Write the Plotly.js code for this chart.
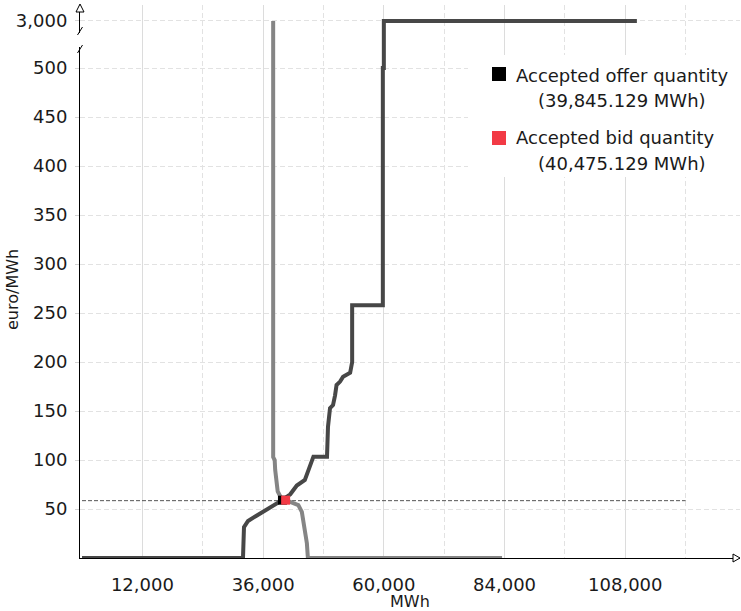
<!DOCTYPE html>
<html>
<head>
<meta charset="utf-8">
<script src="https://cdn.plot.ly/plotly-3.0.1.min.js"></script>
<style>html,body{margin:0;padding:0;background:#fff;}</style>
</head>
<body>
<div id="chart" style="width:741px;height:611px;"></div>
<script>
// ---- data ----
const offerQty   = [0, 32000, 32200, 33000, 34600, 36000, 37400, 38800, 39800, 41400, 42700, 44300, 45000, 45700, 46000, 48700, 48900, 49300, 49900, 50300, 50600, 51300, 51900, 53300, 53700, 53700, 59800, 59800, 60000, 60000, 110300];
const offerPrice = [0, 0, 31.6, 37.8, 42.9, 47, 52, 56, 59, 65, 74, 79.6, 89.8, 97, 103.4, 103.4, 134, 153, 156, 166, 176.5, 180, 185, 189, 200, 258, 258, 500, 500, 3000, 3000];

const bidQty   = [38000, 38000, 38300, 38400, 38900, 39600, 40500, 41400, 43000, 43700, 44000, 44300, 44700, 44900, 83500];
const bidPrice = [3000, 103, 100, 90, 68, 61, 59, 57.5, 54, 47, 38.8, 28.6, 15, 0, 0];

const clearingPrice = 58.5;
const priceLineQty = [0, 120000];

const acceptedOfferQty = 39845.129;
const acceptedBidQty = 40475.129;
const acceptedPrice = 59;

const xMajorTicks = [12000, 36000, 60000, 84000, 108000];
const xMinorTicks = [24000, 48000, 72000, 96000, 120000];
const yTickValues = [50, 100, 150, 200, 250, 300, 350, 400, 450, 500, 3000];
const yTickLabels = ['50', '100', '150', '200', '250', '300', '350', '400', '450', '500', '3,000'];
const ySolidGrid = [50, 150, 250, 350, 450, 3000];

const legendLabels = ['Accepted offer quantity', 'Accepted bid quantity'];
const legendValues = ['(39,845.129 MWh)', '(40,475.129 MWh)'];
const xTitle = 'MWh';
const yTitle = 'euro/MWh';

// ---- broken y-axis: values above 500 are compressed ----
const BREAK = 500;
function yMap(v) { return v <= BREAK ? v : BREAK + (v - BREAK) * 48 / 2500; }

// ---- pixel helpers for decorations ----
const L = 80, R = 1, T = 5, B = 53, W = 741, H = 611;
const PW = W - L - R, PH = H - T - B;
const px = p => (p - L) / PW;
const py = p => (H - B - p) / PH;

const FONT = 'DejaVu Sans, Arial, sans-serif';
const TXT = '#1a1a1a';

const traces = [
  { x: priceLineQty, y: priceLineQty.map(() => clearingPrice), mode: 'lines',
    line: { color: '#555', width: 1, dash: '4px,2px' }, hoverinfo: 'skip', showlegend: false },
  { x: bidQty, y: bidPrice.map(yMap), mode: 'lines', name: 'Bid',
    line: { color: '#858585', width: 4 }, showlegend: false },
  { x: offerQty, y: offerPrice.map(yMap), mode: 'lines', name: 'Offer',
    line: { color: '#474747', width: 4 }, showlegend: false },
  { x: [acceptedOfferQty], y: [acceptedPrice], mode: 'markers',
    marker: { symbol: 'square', size: 9, color: '#000' }, showlegend: false },
  { x: [acceptedBidQty], y: [acceptedPrice], mode: 'markers',
    marker: { symbol: 'square', size: 9, color: '#f23a45' }, showlegend: false }
];

const shapes = [
  // legend background
  { type: 'rect', xref: 'paper', yref: 'paper', x0: px(468), x1: px(740), y0: py(177), y1: py(55),
    fillcolor: '#fff', line: { width: 0 }, layer: 'above' },
  // legend squares
  { type: 'rect', xref: 'paper', yref: 'paper', x0: px(492), x1: px(506), y0: py(81), y1: py(67),
    fillcolor: '#000', line: { width: 0 }, layer: 'above' },
  { type: 'rect', xref: 'paper', yref: 'paper', x0: px(492), x1: px(506), y0: py(145), y1: py(131),
    fillcolor: '#f23a45', line: { width: 0 }, layer: 'above' },
  // axis break gap
  { type: 'rect', xref: 'paper', yref: 'paper', x0: px(77), x1: px(83), y0: py(47), y1: py(33),
    fillcolor: '#fff', line: { width: 0 }, layer: 'above' },
  { type: 'line', xref: 'paper', yref: 'paper', x0: px(77.5), x1: px(82.5), y0: py(35), y1: py(27),
    line: { color: '#000', width: 1 }, layer: 'above' },
  { type: 'line', xref: 'paper', yref: 'paper', x0: px(77.5), x1: px(82.5), y0: py(53), y1: py(45),
    line: { color: '#000', width: 1 }, layer: 'above' },
  // y-axis arrow
  { type: 'path', xref: 'paper', yref: 'paper',
    path: `M ${px(76)},${py(12)} L ${px(80)},${py(4)} L ${px(84)},${py(12)} Z`,
    fillcolor: '#fff', line: { color: '#000', width: 1 }, layer: 'above' },
  // x-axis arrow
  { type: 'path', xref: 'paper', yref: 'paper',
    path: `M ${px(733)},${py(554)} L ${px(740)},${py(558)} L ${px(733)},${py(562)} Z`,
    fillcolor: '#fff', line: { color: '#000', width: 1 }, layer: 'above' }
];

const annotations = [];
const legendRows = [75, 138];
legendLabels.forEach((lab, i) => {
  annotations.push({ xref: 'paper', yref: 'paper', x: px(514), y: py(legendRows[i]),
    xanchor: 'left', yanchor: 'middle', text: lab, showarrow: false,
    font: { family: FONT, size: 18, color: TXT } });
  annotations.push({ xref: 'paper', yref: 'paper', x: px(622), y: py(legendRows[i] + 25),
    xanchor: 'center', yanchor: 'middle', text: legendValues[i], showarrow: false,
    font: { family: FONT, size: 18, color: TXT } });
});
// axis titles
annotations.push({ xref: 'paper', yref: 'paper', x: px(410), y: py(601),
  xanchor: 'center', yanchor: 'middle', text: xTitle, showarrow: false,
  font: { family: FONT, size: 16, color: TXT } });
annotations.push({ xref: 'paper', yref: 'paper', x: px(12), y: py(290),
  xanchor: 'center', yanchor: 'middle', text: yTitle, showarrow: false, textangle: -90,
  font: { family: FONT, size: 16, color: TXT } });

const layout = {
  width: W, height: H,
  margin: { l: L, r: R, t: T, b: B },
  paper_bgcolor: '#fff', plot_bgcolor: '#fff',
  showlegend: false,
  xaxis: {
    range: [-400, 130800],
    tickmode: 'array', tickvals: xMajorTicks, tickformat: ',d',
    showgrid: true, gridcolor: '#dcdcdc', gridwidth: 1,
    minor: { tickmode: 'array', tickvals: xMinorTicks, showgrid: true, gridcolor: '#e2e2e2', griddash: '5px,3px', ticks: '' },
    showline: true, linecolor: '#000', linewidth: 1,
    zeroline: false, ticks: '', ticklabelstandoff: 10,
    tickfont: { family: FONT, size: 18, color: TXT }
  },
  yaxis: {
    range: [0, 564.3],
    tickmode: 'array', tickvals: yTickValues.map(yMap), ticktext: yTickLabels,
    showgrid: true, gridcolor: '#e2e2e2', gridwidth: 1, griddash: '5px,3px',
    minor: { tickmode: 'array', tickvals: ySolidGrid.map(yMap), showgrid: true, gridcolor: '#dcdcdc', ticks: '' },
    showline: true, linecolor: '#000', linewidth: 1,
    zeroline: false, ticks: 'outside', ticklen: 4, tickcolor: '#d4d4d4',
    ticklabelstandoff: 4,
    tickfont: { family: FONT, size: 18, color: TXT }
  },
  shapes: shapes,
  annotations: annotations
};

Plotly.newPlot('chart', traces, layout, { displayModeBar: false, staticPlot: true });
</script>
</body>
</html>
